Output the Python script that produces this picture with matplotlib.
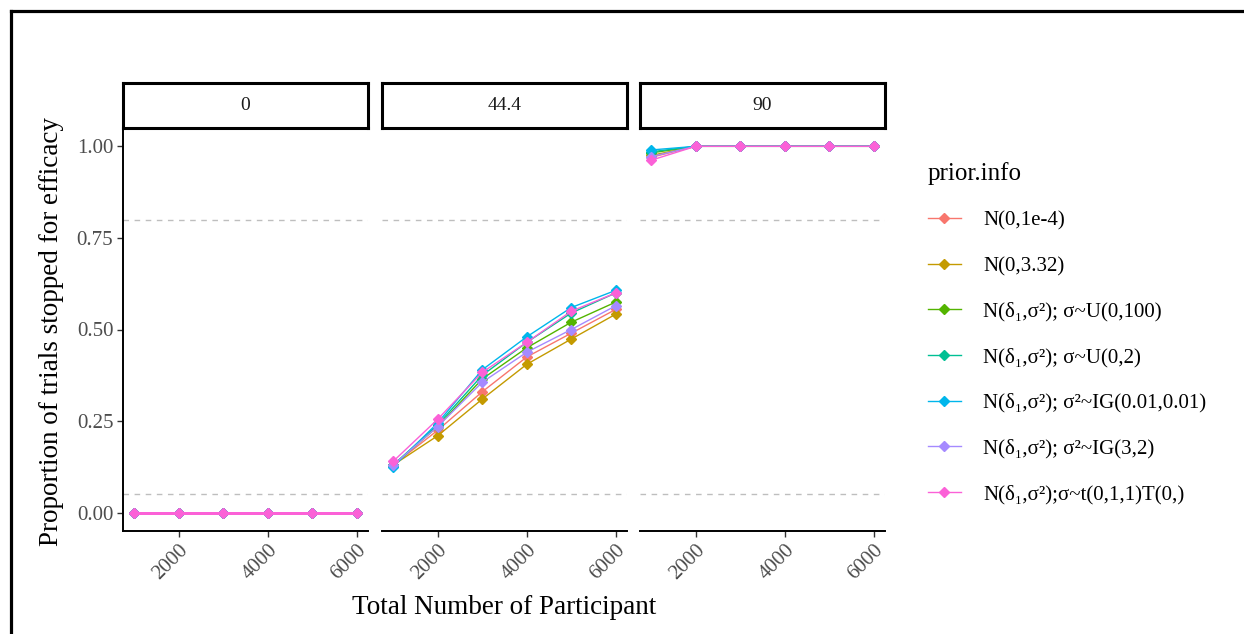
import numpy as np
import matplotlib
matplotlib.use("Agg")
import matplotlib.pyplot as plt
from matplotlib.lines import Line2D

plt.rcParams['font.family'] = ['Liberation Serif', 'DejaVu Serif']

# data
n_total = [1000, 2000, 3000, 4000, 5000, 6000]
effects = ["0", "44.4", "90"]
priors = ["N(0,1e-4)", "N(0,3.32)", "N(δ₁,σ²); σ~U(0,100)", "N(δ₁,σ²); σ~U(0,2)",
          "N(δ₁,σ²); σ²~IG(0.01,0.01)", "N(δ₁,σ²); σ²~IG(3,2)", "N(δ₁,σ²);σ~t(0,1,1)T(0,)"]
colors = ["#F8766D", "#C49A00", "#53B400", "#00C094", "#00B6EB", "#A58AFF", "#FB61D7"]

eff0 = {p: [0, 0, 0, 0, 0, 0] for p in priors}
eff44 = {
    priors[0]: [0.130, 0.225, 0.330, 0.425, 0.490, 0.555],
    priors[1]: [0.130, 0.210, 0.310, 0.405, 0.474, 0.542],
    priors[2]: [0.130, 0.235, 0.365, 0.450, 0.520, 0.575],
    priors[3]: [0.130, 0.240, 0.375, 0.465, 0.545, 0.600],
    priors[4]: [0.125, 0.245, 0.390, 0.480, 0.560, 0.607],
    priors[5]: [0.130, 0.235, 0.356, 0.438, 0.500, 0.565],
    priors[6]: [0.140, 0.255, 0.383, 0.465, 0.550, 0.600],
}
eff90 = {
    priors[0]: [0.970, 1, 1, 1, 1, 1],
    priors[1]: [0.975, 1, 1, 1, 1, 1],
    priors[2]: [0.982, 1, 1, 1, 1, 1],
    priors[3]: [0.985, 1, 1, 1, 1, 1],
    priors[4]: [0.990, 1, 1, 1, 1, 1],
    priors[5]: [0.972, 1, 1, 1, 1, 1],
    priors[6]: [0.962, 1, 1, 1, 1, 1],
}
panels = [eff0, eff44, eff90]

W, H = 1244, 634
fig = plt.figure(figsize=(W / 100, H / 100), dpi=100)

def fx(px):
    return px / W

def fy(py):
    return 1 - py / H

# outer frame (left and top edges visible)
fig.add_artist(Line2D([fx(11), fx(11)], [fy(11), 0], color='black', lw=2.3, transform=fig.transFigure))
fig.add_artist(Line2D([fx(11), 1], [fy(11), fy(11)], color='black', lw=2.3, transform=fig.transFigure))

lefts = [123, 382, 640]
pw = 245
top, bot = 128, 531
grey30 = "#4D4D4D"

for i, (lx, data) in enumerate(zip(lefts, panels)):
    ax = fig.add_axes([fx(lx), fy(bot), fx(pw), (bot - top) / H])
    for p, c in zip(priors, colors):
        if i == 0:
            # flat overlapping lines: no antialiasing so the top one shows clean
            ax.plot(n_total, data[p], color=c, lw=1.0, antialiased=False)
            ax.plot(n_total, data[p], color=c, ls='none', marker='D', ms=5)
        else:
            ax.plot(n_total, data[p], color=c, lw=1.0, marker='D', ms=5, label=p)
    for h in [0.05, 0.8]:
        ax.axhline(h, color='#BEBEBE', ls=(0, (4, 4)), lw=1.0, zorder=0)
    ax.set_xlim(750, 6250)
    ax.set_ylim(-0.05, 1.05)
    ax.set_xticks([2000, 4000, 6000])
    ax.set_xticklabels(['2000', '4000', '6000'], rotation=45, ha='right', va='top',
                       rotation_mode='anchor', fontsize=15, color=grey30)
    for s in ['top', 'right']:
        ax.spines[s].set_visible(False)
    ax.spines['bottom'].set_linewidth(1.4)
    ax.tick_params(axis='x', length=4, width=1.0, color='#333333', pad=3)
    if i == 0:
        ax.set_yticks([0, 0.25, 0.5, 0.75, 1.0])
        ax.set_yticklabels(['0.00', '0.25', '0.50', '0.75', '1.00'], fontsize=15, color=grey30)
        ax.tick_params(axis='y', length=4, width=1.0, color='#333333', pad=3)
        ax.spines['left'].set_linewidth(1.4)
    else:
        ax.set_yticks([])
        ax.spines['left'].set_visible(False)
    # facet strip
    sax = fig.add_axes([fx(lx), fy(top), fx(pw), 45 / H])
    sax.set_xticks([])
    sax.set_yticks([])
    for s in sax.spines.values():
        s.set_linewidth(2.2)
    sax.text(0.5, 0.5, effects[i], ha='center', va='center', fontsize=14, color='#1A1A1A',
             transform=sax.transAxes)
    if i == 1:
        handles, labels = ax.get_legend_handles_labels()

fig.text(fx(504), fy(608), "Total Number of Participant", ha='center', va='center', fontsize=19.5)
fig.text(fx(52), fy(332), "Proportion of trials stopped for efficacy", ha='center', va='center',
         rotation=90, fontsize=19.5)

leg = fig.legend(handles, labels, loc='upper left', bbox_to_anchor=(fx(909), fy(143)),
                 frameon=False, title='prior.info', fontsize=15, title_fontsize=18,
                 labelspacing=1.25, handlelength=1.6, handletextpad=1.05)
leg._legend_box.align = 'left'

fig.savefig('out.png', dpi=100)
